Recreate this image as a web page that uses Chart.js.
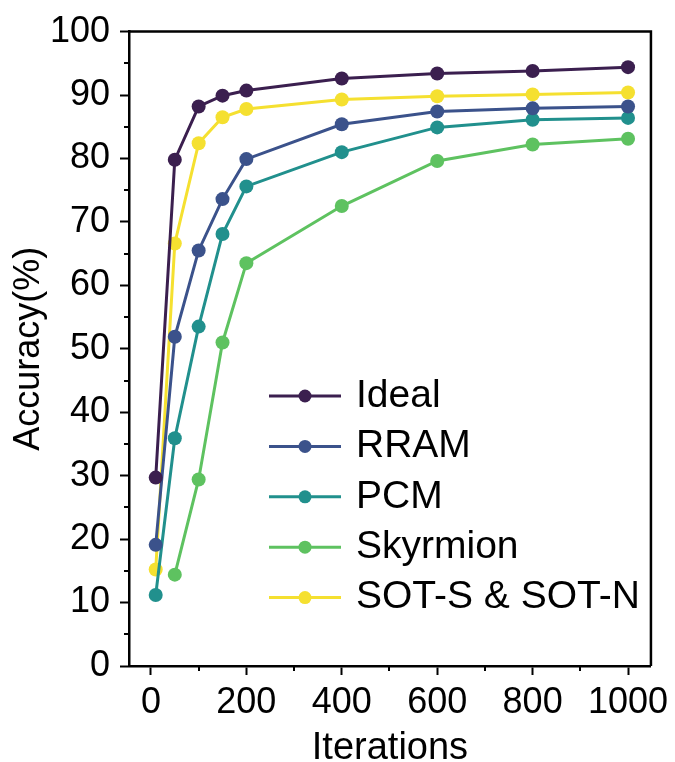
<!DOCTYPE html>
<html>
<head>
<meta charset="utf-8">
<script src="https://cdn.jsdelivr.net/npm/chart.js@4/dist/chart.umd.min.js"></script>
<style>
  body { margin: 0; background: #fff; }
  canvas { display: block; }
</style>
</head>
<body>
<canvas id="grafico" width="675" height="762"></canvas>
<script>
// iterações (eixo x) e acurácia de cada dispositivo
const iteracoes = [10, 50, 100, 150, 200, 400, 600, 800, 1000];
const ideal    = [29.7, 79.8, 88.2, 89.9, 90.7, 92.6, 93.4, 93.8, 94.4];
const rram     = [19.1, 51.9, 65.5, 73.6, 79.9, 85.4, 87.4, 87.9, 88.2];
const pcm      = [11.2, 35.9, 53.5, 68.1, 75.6, 81.0, 84.9, 86.1, 86.4];
const skyrmion = [null, 14.4, 29.4, 51.0, 63.5, 72.5, 79.6, 82.2, 83.1];
const sot      = [15.2, 66.6, 82.4, 86.5, 87.8, 89.3, 89.8, 90.1, 90.4];

const nomes = ['Ideal', 'RRAM', 'PCM', 'Skyrmion', 'SOT-S & SOT-N'];
const cores = ['#3b1f4f', '#3b528b', '#21908d', '#5ec260', '#f5e030'];

const ticksX = [0, 200, 400, 600, 800, 1000];
const ticksXMenores = [100, 300, 500, 700, 900];
const ticksYMenores = [5, 15, 25, 35, 45, 55, 65, 75, 85, 95];

const fonte = 'Liberation Sans, Arial, sans-serif';

// monta os pontos {x, y} pulando os valores que faltam
function pontos(valores) {
    return iteracoes
        .map((x, i) => ({ x: x, y: valores[i] }))
        .filter(p => p.y !== null);
}

const series = [ideal, rram, pcm, skyrmion, sot];

// moldura (topo e direita) + ticks menores
const moldura = {
    id: 'moldura',
    afterDraw(chart) {
        const ctx = chart.ctx;
        const a = chart.chartArea;
        const sx = chart.scales.x;
        const sy = chart.scales.y;
        ctx.save();
        ctx.strokeStyle = '#000';
        ctx.lineWidth = 2.5;
        ctx.beginPath();
        ctx.moveTo(a.left, a.top);
        ctx.lineTo(a.right, a.top);
        ctx.lineTo(a.right, a.bottom);
        ctx.stroke();

        ctx.lineWidth = 2;
        ctx.beginPath();
        ticksXMenores.forEach(v => {
            const px = Math.round(sx.getPixelForValue(v));
            ctx.moveTo(px, a.bottom);
            ctx.lineTo(px, a.bottom + 5);
        });
        ticksYMenores.forEach(v => {
            const py = Math.round(sy.getPixelForValue(v));
            ctx.moveTo(a.left, py);
            ctx.lineTo(a.left - 5, py);
        });
        ctx.stroke();
        ctx.restore();
    }
};

// legenda desenhada dentro da área do gráfico
const legenda = {
    id: 'legenda',
    afterDraw(chart) {
        const ctx = chart.ctx;
        ctx.save();
        chart.data.datasets.forEach((ds, i) => {
            const y = 396 + i * 50.4;
            ctx.strokeStyle = ds.borderColor;
            ctx.lineWidth = 3;
            ctx.beginPath();
            ctx.moveTo(269, y);
            ctx.lineTo(341, y);
            ctx.stroke();
            ctx.fillStyle = ds.backgroundColor;
            ctx.beginPath();
            ctx.arc(305, y, 6.5, 0, Math.PI * 2);
            ctx.fill();
            ctx.fillStyle = '#000';
            ctx.font = '39px ' + fonte;
            ctx.textBaseline = 'middle';
            ctx.textAlign = 'left';
            ctx.fillText(ds.label, 356, y);
        });
        ctx.restore();
    }
};

const ctx = document.getElementById('grafico').getContext('2d');
new Chart(ctx, {
    type: 'line',
    data: {
        datasets: series.map((s, i) => ({
            label: nomes[i],
            data: pontos(s),
            borderColor: cores[i],
            backgroundColor: cores[i],
            borderWidth: 3,
            pointRadius: 7,
            pointBorderWidth: 0,
            tension: 0,
            fill: false
        }))
    },
    options: {
        responsive: false,
        animation: false,
        devicePixelRatio: 1,
        layout: { padding: { top: 31, right: 21, left: 0, bottom: 0 } },
        plugins: {
            legend: { display: false },
            tooltip: { enabled: false }
        },
        scales: {
            x: {
                type: 'linear',
                min: -46,
                max: 1048,
                afterBuildTicks: (s) => { s.ticks = ticksX.map(v => ({ value: v })); },
                afterFit: (s) => { s.height = 96; },
                border: { display: true, color: '#000', width: 2.5 },
                grid: { drawOnChartArea: false, drawTicks: true, tickLength: 9, tickColor: '#000', tickWidth: 2 },
                ticks: {
                    color: '#000', padding: 6, maxRotation: 0,
                    font: { family: fonte, size: 36 },
                    callback: (v) => String(v)
                },
                title: {
                    display: true,
                    text: 'Iterations',
                    color: '#000',
                    font: { family: fonte, size: 38, lineHeight: 0.7 },
                    padding: { top: 0, bottom: 0 }
                }
            },
            y: {
                min: 0,
                max: 100,
                afterFit: (s) => { s.width = 129; },
                border: { display: true, color: '#000', width: 2.5 },
                grid: { drawOnChartArea: false, drawTicks: true, tickLength: 9, tickColor: '#000', tickWidth: 2 },
                ticks: {
                    stepSize: 10, color: '#000', padding: 10,
                    font: { family: fonte, size: 36 },
                    callback: (v) => String(v)
                },
                title: {
                    display: true,
                    text: 'Accuracy(%)',
                    color: '#000',
                    font: { family: fonte, size: 36, lineHeight: 1 },
                    padding: { top: 11, bottom: 0 }
                }
            }
        }
    },
    plugins: [moldura, legenda]
});
</script>
</body>
</html>
